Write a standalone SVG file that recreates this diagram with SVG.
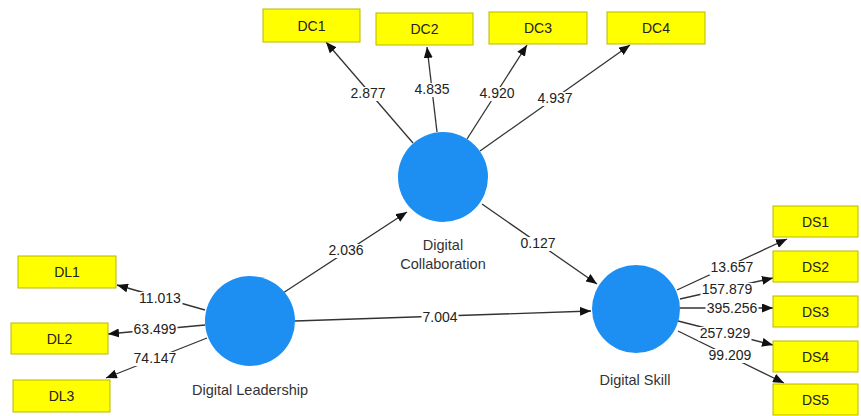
<svg xmlns="http://www.w3.org/2000/svg" width="861" height="416" viewBox="0 0 861 416">
<style>
.box{fill:#ffff00;stroke:#b8b800;stroke-width:1}
.bt{font-family:"Liberation Sans",Arial,sans-serif;font-size:14px;fill:#222;text-anchor:middle}
.lv{fill:#1e8ff2}
.nm{font-family:"Liberation Sans",Arial,sans-serif;font-size:14.5px;fill:#333;text-anchor:middle}
.ln{stroke:#333;stroke-width:1.3;fill:none;marker-end:url(#ah)}
.bg{fill:#fff}
.lb{font-family:"Liberation Sans",Arial,sans-serif;font-size:14px;fill:#222;text-anchor:middle}
</style>
<defs>
<marker id="ah" markerUnits="userSpaceOnUse" markerWidth="11" markerHeight="9" refX="11" refY="4.5" orient="auto">
<path d="M0,0 L11,4.5 L0,9 z" fill="#111"/>
</marker>
</defs>
<rect width="861" height="416" fill="#fff"/>
<g id="connectors">
<line class="ln" x1="413" y1="143" x2="326" y2="42"/>
<line class="ln" x1="437" y1="132" x2="427" y2="47"/>
<line class="ln" x1="467" y1="139" x2="527" y2="45"/>
<line class="ln" x1="480" y1="151" x2="630" y2="45"/>
<line class="ln" x1="205" y1="310" x2="117" y2="285"/>
<line class="ln" x1="205" y1="325" x2="108" y2="334"/>
<line class="ln" x1="207" y1="338" x2="106" y2="378"/>
<line class="ln" x1="283" y1="293" x2="407" y2="212"/>
<line class="ln" x1="482" y1="204" x2="597" y2="284"/>
<line class="ln" x1="295" y1="321" x2="591" y2="311"/>
<line class="ln" x1="677" y1="290" x2="787" y2="239"/>
<line class="ln" x1="680" y1="299" x2="773" y2="278"/>
<line class="ln" x1="680" y1="308" x2="773" y2="308"/>
<line class="ln" x1="678" y1="321" x2="773" y2="345"/>
<line class="ln" x1="678" y1="331" x2="784" y2="383"/>
<rect class="bg" x="349.5" y="87" width="37" height="14"/>
<rect class="bg" x="413.5" y="83" width="37" height="14"/>
<rect class="bg" x="478.5" y="87" width="37" height="14"/>
<rect class="bg" x="536.5" y="92" width="37" height="14"/>
<rect class="bg" x="137.5" y="292" width="45" height="14"/>
<rect class="bg" x="132.5" y="323" width="45" height="14"/>
<rect class="bg" x="132.5" y="352" width="45" height="14"/>
<rect class="bg" x="327.5" y="244" width="37" height="14"/>
<rect class="bg" x="519.5" y="237" width="37" height="14"/>
<rect class="bg" x="421.5" y="311" width="37" height="14"/>
<rect class="bg" x="709.5" y="261" width="45" height="14"/>
<rect class="bg" x="700.5" y="283" width="53" height="14"/>
<rect class="bg" x="705.5" y="302" width="53" height="14"/>
<rect class="bg" x="698.5" y="327" width="53" height="14"/>
<rect class="bg" x="707.5" y="349" width="45" height="14"/>
<text class="lb" x="368" y="98">2.877</text>
<text class="lb" x="432" y="94">4.835</text>
<text class="lb" x="497" y="98">4.920</text>
<text class="lb" x="555" y="103">4.937</text>
<text class="lb" x="160" y="303">11.013</text>
<text class="lb" x="155" y="334">63.499</text>
<text class="lb" x="155" y="363">74.147</text>
<text class="lb" x="346" y="255">2.036</text>
<text class="lb" x="538" y="248">0.127</text>
<text class="lb" x="440" y="322">7.004</text>
<text class="lb" x="732" y="272">13.657</text>
<text class="lb" x="727" y="294">157.879</text>
<text class="lb" x="732" y="313">395.256</text>
<text class="lb" x="725" y="338">257.929</text>
<text class="lb" x="730" y="360">99.209</text>
</g>
<g id="DigitalCollaboration">
<circle class="lv" cx="443" cy="177" r="45"/>
<text class="nm" x="443" y="250">Digital</text>
<text class="nm" x="443" y="269">Collaboration</text>
</g>
<g id="DigitalLeadership">
<circle class="lv" cx="250" cy="321" r="45"/>
<text class="nm" x="250" y="395">Digital Leadership</text>
</g>
<g id="DigitalSkill">
<circle class="lv" cx="636" cy="309" r="44"/>
<text class="nm" x="635" y="385">Digital Skill</text>
</g>
<g id="DC1"><rect class="box" x="263" y="9" width="97" height="33"/><text class="bt" x="311.5" y="31">DC1</text></g>
<g id="DC2"><rect class="box" x="376" y="13" width="97" height="32"/><text class="bt" x="424.5" y="34">DC2</text></g>
<g id="DC3"><rect class="box" x="489" y="12" width="98" height="32"/><text class="bt" x="538" y="33">DC3</text></g>
<g id="DC4"><rect class="box" x="607" y="12" width="98" height="32"/><text class="bt" x="656" y="33">DC4</text></g>
<g id="DL1"><rect class="box" x="18" y="256" width="98" height="32"/><text class="bt" x="67" y="277">DL1</text></g>
<g id="DL2"><rect class="box" x="11" y="323" width="97" height="31"/><text class="bt" x="59.5" y="344">DL2</text></g>
<g id="DL3"><rect class="box" x="13" y="380" width="97" height="32"/><text class="bt" x="61.5" y="401">DL3</text></g>
<g id="DS1"><rect class="box" x="773" y="206" width="85" height="31"/><text class="bt" x="815.5" y="227">DS1</text></g>
<g id="DS2"><rect class="box" x="773" y="251" width="85" height="31"/><text class="bt" x="815.5" y="272">DS2</text></g>
<g id="DS3"><rect class="box" x="773" y="296" width="85" height="31"/><text class="bt" x="815.5" y="317">DS3</text></g>
<g id="DS4"><rect class="box" x="773" y="341" width="85" height="31"/><text class="bt" x="815.5" y="362">DS4</text></g>
<g id="DS5"><rect class="box" x="773" y="384" width="85" height="31"/><text class="bt" x="815.5" y="405">DS5</text></g>
</svg>
